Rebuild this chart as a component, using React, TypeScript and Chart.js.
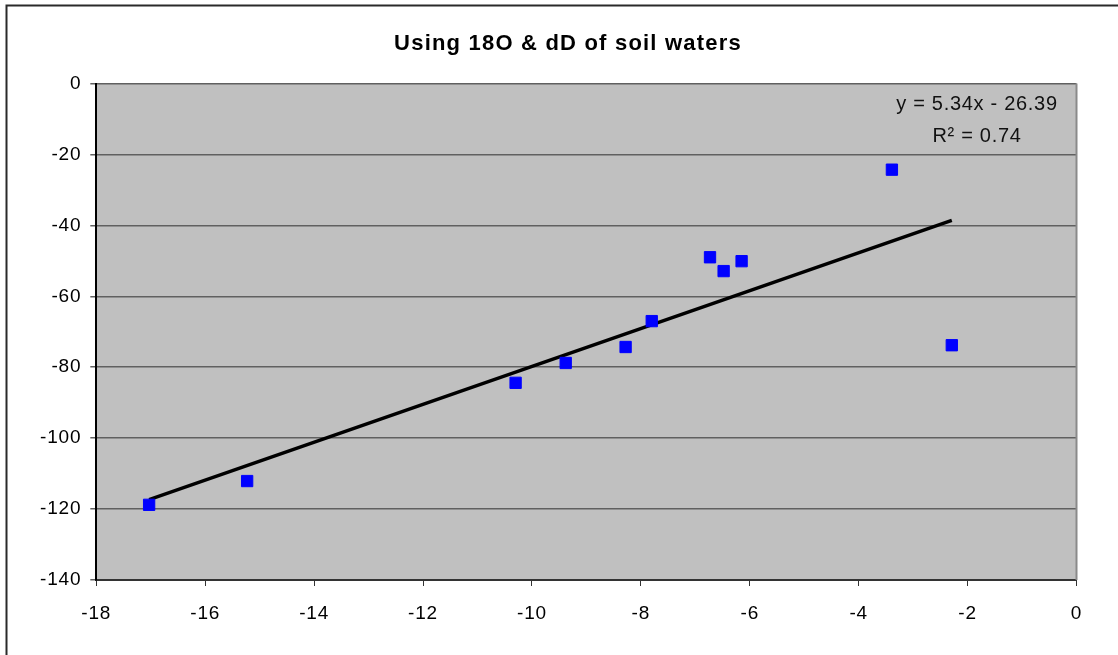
import React, { useEffect, useRef } from "react";
import { Chart, registerables } from "chart.js";

Chart.register(...registerables);

// Data
const xValues = [-17.03, -15.23, -10.3, -9.38, -8.28, -7.8, -6.73, -6.48, -6.15, -3.39, -2.29];
const yValues = [-118.8, -112.1, -84.4, -78.8, -74.3, -67.0, -49.0, -52.9, -50.1, -24.3, -73.8];

// Trendline as given by the displayed equation
const trendSlope = 5.34;
const trendIntercept = -26.39;

const titleText = "Using 18O & dD of soil waters";
const equationText = "y = 5.34x - 26.39";
const r2Text = "R\u00B2 = 0.74";

const xMin = -18;
const xMax = 0;
const xStep = 2;
const yMin = -140;
const yMax = 0;
const yStep = 20;

const FONT = "'Liberation Sans', Arial, Helvetica, sans-serif";

const decorPlugin = {
  id: "excelDecor",
  beforeDraw(chart: any) {
    const { ctx, chartArea } = chart;
    ctx.save();
    // outer chart frame (extends beyond right/bottom edges)
    ctx.strokeStyle = "#2a2a2a";
    ctx.lineWidth = 2;
    ctx.strokeRect(6.5, 5.5, 1300, 800);
    // plot background
    ctx.fillStyle = "#C0C0C0";
    ctx.fillRect(chartArea.left, chartArea.top, chartArea.right - chartArea.left, chartArea.bottom - chartArea.top);
    ctx.restore();
    (ctx as any).letterSpacing = "0.8px";
  },
  beforeDatasetsDraw(chart: any) {
    const { ctx, chartArea } = chart;
    ctx.save();
    ctx.strokeStyle = "#8a8a8a";
    ctx.lineWidth = 2;
    ctx.beginPath();
    ctx.moveTo(chartArea.right, chartArea.top);
    ctx.lineTo(chartArea.right, chartArea.bottom);
    ctx.stroke();
    ctx.restore();
  },
  afterDraw(chart: any) {
    const { ctx } = chart;
    ctx.save();
    ctx.fillStyle = "#000";
    ctx.textAlign = "center";
    ctx.textBaseline = "alphabetic";
    (ctx as any).letterSpacing = "1.2px";
    ctx.font = `bold 22px ${FONT}`;
    ctx.fillText(titleText, 568, 50);
    (ctx as any).letterSpacing = "0.7px";
    ctx.font = `20px ${FONT}`;
    ctx.fillStyle = "#111";
    ctx.fillText(equationText, 977, 110);
    ctx.fillText(r2Text, 977, 142);
    ctx.restore();
    (ctx as any).letterSpacing = "0px";
  },
};

export default function App() {
  const canvasRef = useRef<HTMLCanvasElement | null>(null);

  useEffect(() => {
    const canvas = canvasRef.current;
    if (!canvas) return;
    const points = xValues.map((x, i) => ({ x, y: yValues[i] }));
    const tMin = Math.min(...xValues);
    const tMax = Math.max(...xValues);
    const trend = [
      { x: tMin, y: trendSlope * tMin + trendIntercept },
      { x: tMax, y: trendSlope * tMax + trendIntercept },
    ];

    const chart = new Chart(canvas, {
      type: "scatter",
      data: {
        datasets: [
          {
            type: "line",
            label: "Linear trend",
            data: trend,
            borderColor: "#000",
            borderWidth: 3.5,
            pointRadius: 0,
            fill: false,
            order: 1,
          } as any,
          {
            label: "Soil waters",
            data: points,
            pointStyle: "rect",
            pointRadius: 8,
            backgroundColor: "#0000FF",
            borderColor: "#0000FF",
            borderWidth: 1,
            order: 0,
          },
        ],
      },
      options: {
        responsive: false,
        animation: false,
        layout: { padding: { left: 0, top: 83.5, right: 41.5, bottom: 0 } },
        plugins: {
          legend: { display: false },
          title: { display: false },
          tooltip: { enabled: false },
        },
        scales: {
          x: {
            type: "linear",
            min: xMin,
            max: xMax,
            afterFit(scale: any) {
              scale.height = 75;
            },
            ticks: {
              stepSize: xStep,
              color: "#000",
              padding: 16,
              font: { family: FONT, size: 19 },
              maxRotation: 0,
            },
            grid: {
              drawOnChartArea: false,
              drawTicks: true,
              tickLength: 6,
              color: "#333",
              lineWidth: 1,
            },
            border: { display: true, color: "#333", width: 2 },
          },
          y: {
            type: "linear",
            min: yMin,
            max: yMax,
            afterFit(scale: any) {
              scale.width = 96.3;
            },
            ticks: {
              stepSize: yStep,
              color: "#000",
              padding: 9,
              font: { family: FONT, size: 19 },
            },
            grid: {
              drawOnChartArea: true,
              drawTicks: true,
              tickLength: 6,
              color: "#606060",
              lineWidth: 1.5,
            },
            border: { display: true, color: "#000", width: 2 },
          },
        },
      },
      plugins: [decorPlugin],
    });

    return () => {
      chart.destroy();
    };
  }, []);

  return (
    <div style={{ position: "fixed", left: 0, top: 0, width: 1118, height: 655, background: "#fff" }}>
      <canvas ref={canvasRef} width={1118} height={655} style={{ display: "block" }} />
    </div>
  );
}
